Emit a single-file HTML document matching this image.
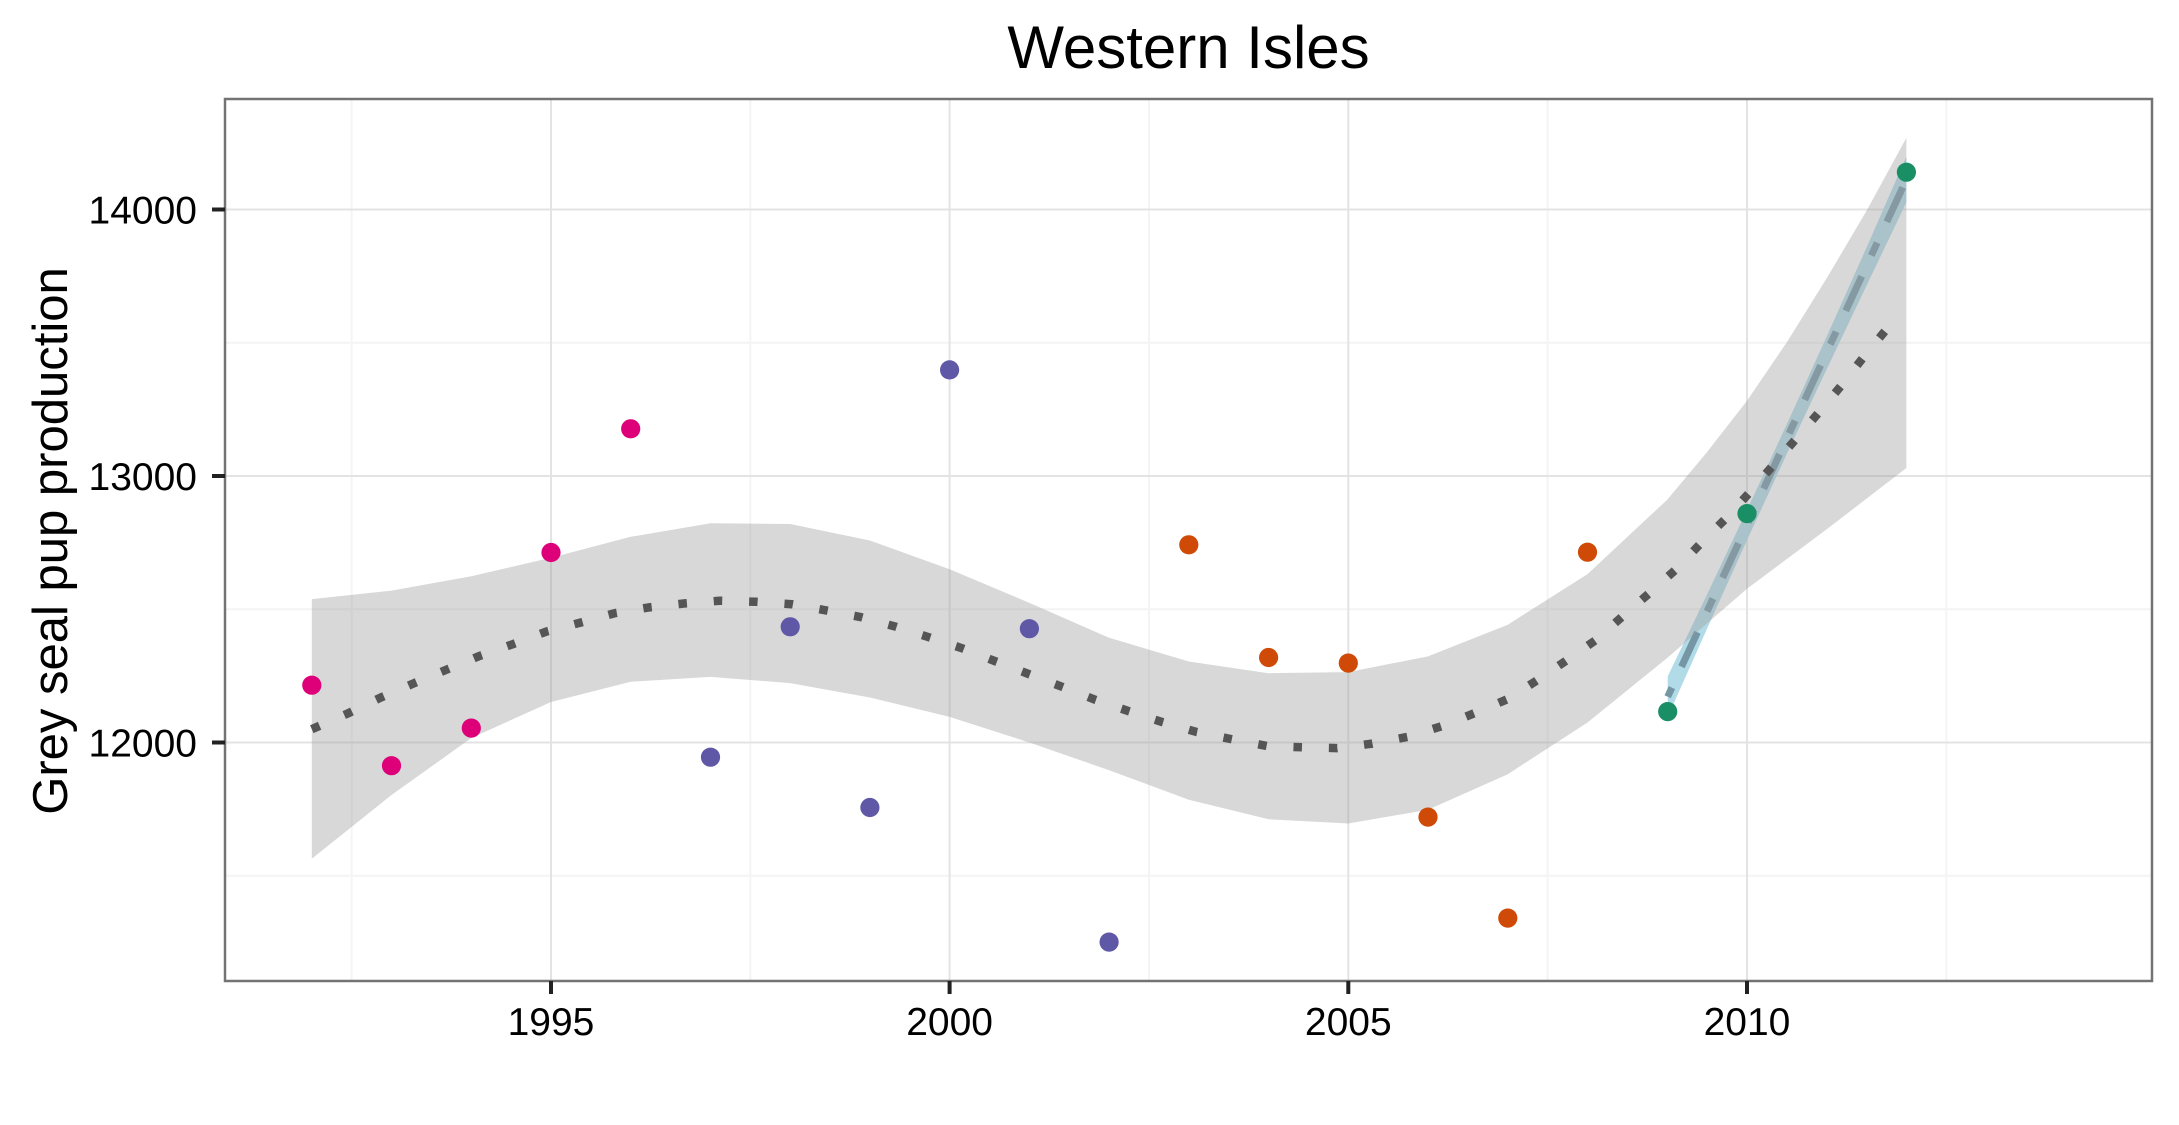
<!DOCTYPE html>
<html>
<head>
<meta charset="utf-8">
<style>
  html, body { margin: 0; padding: 0; background: #ffffff; }
  svg { display: block; }
  text { font-family: "Liberation Sans", Arial, sans-serif; fill: #000; }
</style>
</head>
<body>
<svg width="2179" height="1125" viewBox="0 0 2179 1125" xmlns="http://www.w3.org/2000/svg">
  <rect x="0" y="0" width="2179" height="1125" fill="#ffffff"/>

  <!-- Title -->
  <text x="1188.5" y="68" font-size="60" text-anchor="middle">Western Isles</text>

  <!-- Y axis title -->
  <text transform="translate(67,541) rotate(-90)" font-size="49" text-anchor="middle">Grey seal pup production</text>

  <!-- Panel background -->
  <rect x="225" y="99" width="1927" height="882" fill="#ffffff"/>

  <!-- minor gridlines -->
  <g stroke="#f4f4f4" stroke-width="2" fill="none">
    <line x1="351.7" y1="99" x2="351.7" y2="981"/>
    <line x1="750.3" y1="99" x2="750.3" y2="981"/>
    <line x1="1149.0" y1="99" x2="1149.0" y2="981"/>
    <line x1="1547.6" y1="99" x2="1547.6" y2="981"/>
    <line x1="1946.3" y1="99" x2="1946.3" y2="981"/>
    <line x1="225" y1="342.75" x2="2152" y2="342.75"/>
    <line x1="225" y1="609.25" x2="2152" y2="609.25"/>
    <line x1="225" y1="875.75" x2="2152" y2="875.75"/>
  </g>
  <!-- major gridlines -->
  <g stroke="#e3e3e3" stroke-width="2" fill="none">
    <line x1="551.0" y1="99" x2="551.0" y2="981"/>
    <line x1="949.6" y1="99" x2="949.6" y2="981"/>
    <line x1="1348.3" y1="99" x2="1348.3" y2="981"/>
    <line x1="1747.0" y1="99" x2="1747.0" y2="981"/>
    <line x1="225" y1="209.5" x2="2152" y2="209.5"/>
    <line x1="225" y1="476.0" x2="2152" y2="476.0"/>
    <line x1="225" y1="742.5" x2="2152" y2="742.5"/>
  </g>

  <!-- Blue lm ribbon -->
  <polygon fill="#b2dbe8" points="
    1667.7,676.4 1707.6,593.4 1747.4,509.2 1787.3,423.2 1827.2,335.5 1867.0,246.5 1906.4,156.5
    1906.4,202.3 1867.0,284.6 1827.2,368.1 1787.3,452.8 1747.4,539.3 1707.6,627.5 1667.7,716.9"/>

  <!-- lm dashed line -->
  <line x1="1667.7" y1="696.7" x2="1906.4" y2="179.4" stroke="#7596a5" stroke-width="7"
        stroke-dasharray="14 23 38 23" stroke-dashoffset="4" stroke-linecap="butt"/>

  <!-- Grey loess ribbon -->
  <polygon fill="#9e9e9e" fill-opacity="0.4" points="
    311.8,599.1 391.5,590.6 471.3,576.2 551.0,557.8 630.7,536.8 710.5,523.2 790.2,524.0 869.9,540.5
    949.6,569.3 1029.4,602.9 1109.1,637.8 1188.8,661.5 1268.6,673.2 1348.3,672.1 1428.0,656.4
    1507.8,624.7 1587.5,574.1 1667.2,499.7 1707.1,452.0 1747.0,400.8 1787.0,342.0 1826.7,278.3 1867.0,210.0 1906.4,137.8
    1906.4,468.0 1826.7,529.3 1747.0,588.7 1667.2,658.0 1587.5,722.5 1507.8,774.2 1428.0,809.7
    1348.3,823.5 1268.6,819.3 1188.8,799.8 1109.1,770.2 1029.4,742.5 949.6,716.9 869.9,697.5
    790.2,683.1 710.5,676.9 630.7,681.7 551.0,702.0 471.3,738.0 391.5,795.0 311.8,858.7"/>

  <!-- Loess dotted line -->
  <polyline fill="none" stroke="#555555" stroke-width="8.5" stroke-dasharray="8.5 26.9" stroke-linecap="butt" stroke-linejoin="round" points="
    311.8,729.2 347.7,713.5 380.4,697.7 413.1,683.6 445.7,670.0 478.4,656.4 512.7,644.2 546.2,631.6
    580.5,622.6 614.8,613.2 649.0,607.4 684.9,603.4 720.0,600.7 755.9,601.8 791.8,604.2 826.9,610.6
    861.2,617.2 896.2,626.8 929.7,637.5 962.4,648.4 995.9,661.5 1028.6,674.0 1062.1,686.8 1095.6,699.9
    1129.1,711.3 1162.6,722.2 1196.9,732.1 1232.0,739.3 1267.1,746.0 1302.1,747.3 1337.2,748.1
    1372.3,743.6 1407.4,736.9 1441.7,726.2 1474.4,713.2 1507.1,699.3 1537.4,680.1 1566.9,660.1
    1595.6,640.2 1622.7,616.2 1649.0,593.5 1675.5,569.8 1700.2,543.9 1725.7,518.6 1749.6,492.5
    1772.8,465.6 1795.9,439.0 1819.0,412.3 1842.1,384.6 1863.7,356.9 1886.8,328.9 1906.4,316.1"/>

  <!-- Points -->
  <g fill="#dd0078">
    <circle cx="311.8" cy="685.2" r="9.6"/>
    <circle cx="391.5" cy="765.7" r="9.6"/>
    <circle cx="471.3" cy="728.1" r="9.6"/>
    <circle cx="551.0" cy="552.5" r="9.6"/>
    <circle cx="630.7" cy="428.8" r="9.6"/>
  </g>
  <g fill="#5f58a6">
    <circle cx="710.5" cy="757.2" r="9.6"/>
    <circle cx="790.2" cy="626.8" r="9.6"/>
    <circle cx="869.9" cy="807.5" r="9.6"/>
    <circle cx="949.6" cy="369.9" r="9.6"/>
    <circle cx="1029.4" cy="628.7" r="9.6"/>
    <circle cx="1109.1" cy="942.1" r="9.6"/>
  </g>
  <g fill="#ce4a06">
    <circle cx="1188.8" cy="544.8" r="9.6"/>
    <circle cx="1268.6" cy="657.5" r="9.6"/>
    <circle cx="1348.3" cy="663.1" r="9.6"/>
    <circle cx="1428.0" cy="817.1" r="9.6"/>
    <circle cx="1507.8" cy="918.1" r="9.6"/>
    <circle cx="1587.5" cy="552.2" r="9.6"/>
  </g>
  <g fill="#1a8f66">
    <circle cx="1667.7" cy="711.6" r="9.6"/>
    <circle cx="1747.0" cy="513.6" r="9.6"/>
    <circle cx="1906.4" cy="172.2" r="9.6"/>
  </g>

  <!-- Panel border -->
  <rect x="225" y="99" width="1927" height="882" fill="none" stroke="#737373" stroke-width="2.5"/>

  <!-- Y ticks -->
  <g stroke="#222" stroke-width="4">
    <line x1="212" y1="209.5" x2="225" y2="209.5"/>
    <line x1="212" y1="476.0" x2="225" y2="476.0"/>
    <line x1="212" y1="742.5" x2="225" y2="742.5"/>
  </g>
  <g font-size="39" text-anchor="end">
    <text x="197" y="223.5">14000</text>
    <text x="197" y="490">13000</text>
    <text x="197" y="756.5">12000</text>
  </g>

  <!-- X ticks -->
  <g stroke="#222" stroke-width="4">
    <line x1="551.0" y1="981" x2="551.0" y2="994"/>
    <line x1="949.6" y1="981" x2="949.6" y2="994"/>
    <line x1="1348.3" y1="981" x2="1348.3" y2="994"/>
    <line x1="1747.0" y1="981" x2="1747.0" y2="994"/>
  </g>
  <g font-size="39" text-anchor="middle">
    <text x="551.0" y="1035">1995</text>
    <text x="949.6" y="1035">2000</text>
    <text x="1348.3" y="1035">2005</text>
    <text x="1747.0" y="1035">2010</text>
  </g>
</svg>
</body>
</html>
